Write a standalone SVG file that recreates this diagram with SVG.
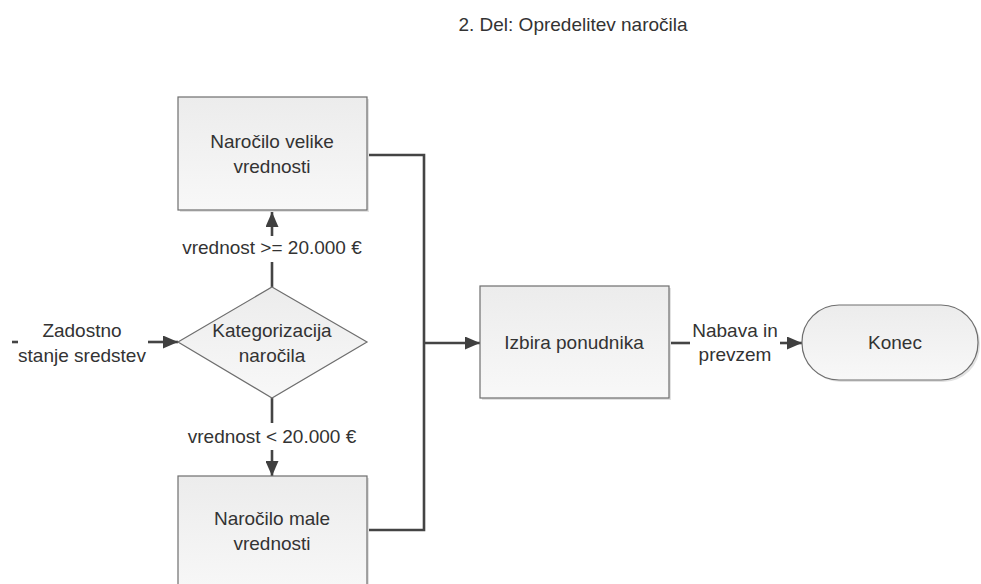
<svg xmlns="http://www.w3.org/2000/svg" width="981" height="584" viewBox="0 0 981 584">
<defs>
<linearGradient id="g" x1="0" y1="0" x2="0" y2="1">
<stop offset="0" stop-color="#ececec"/>
<stop offset="1" stop-color="#f8f8f8"/>
</linearGradient>
<marker id="ah" viewBox="0 0 15 13" refX="15" refY="6.5" markerWidth="15" markerHeight="13" markerUnits="userSpaceOnUse" orient="auto">
<path d="M0,0 L15,6.5 L0,13 Z" fill="#3f3f3f"/>
</marker>
<style>
text{font-family:"Liberation Sans",Arial,sans-serif;font-size:19px;fill:#333;text-anchor:middle}
.shape{fill:url(#g);stroke:#6e6e6e;stroke-width:1.2}
.shadow{fill:#e2e2e2}
.c{fill:none;stroke:#444;stroke-width:2.6}
</style>
</defs>
<rect width="981" height="584" fill="#fff"/>
<text id="title" x="573" y="31">2. Del: Opredelitev naročila</text>

<g id="connectors">
<path class="c" d="M12,342 L18,342"/>
<path class="c" d="M148,342 L178,342" marker-end="url(#ah)"/>
<path class="c" d="M272,287 L272,262"/>
<path class="c" d="M272,236 L272,212" marker-end="url(#ah)"/>
<path class="c" d="M272,398 L272,423"/>
<path class="c" d="M272,450 L272,476" marker-end="url(#ah)"/>
<path class="c" d="M367,155 L424,155 L424,530 L367,530"/>
<path class="c" d="M424,343 L480,343" marker-end="url(#ah)"/>
<path class="c" d="M669,343 L690,343"/>
<path class="c" d="M780,343 L802,343" marker-end="url(#ah)"/>
<text x="82" y="337">Zadostno</text>
<text x="82" y="362">stanje sredstev</text>
<text x="272" y="254">vrednost &gt;= 20.000 €</text>
<text x="272" y="443">vrednost &lt; 20.000 €</text>
<text x="735" y="337">Nabava in</text>
<text x="735" y="361">prevzem</text>
</g>

<g id="n-velike">
<rect class="shadow" x="180" y="99" width="189" height="113"/>
<rect class="shape" x="178" y="97" width="189" height="113"/>
<text x="272" y="148">Naročilo velike</text>
<text x="272" y="173">vrednosti</text>
</g>

<g id="n-kategorizacija">
<polygon class="shape" points="272,287 367,342 272,398 178,342"/>
<text x="272" y="337">Kategorizacija</text>
<text x="272" y="362">naročila</text>
</g>

<g id="n-male">
<rect class="shadow" x="180" y="478" width="189" height="120"/>
<rect class="shape" x="178" y="476" width="189" height="120"/>
<text x="272" y="525">Naročilo male</text>
<text x="272" y="550">vrednosti</text>
</g>

<g id="n-izbira">
<rect class="shadow" x="482" y="288" width="189" height="112"/>
<rect class="shape" x="480" y="286" width="189" height="112"/>
<text x="574" y="349">Izbira ponudnika</text>
</g>

<g id="n-konec">
<rect class="shadow" x="804" y="307" width="176" height="75" rx="37" ry="37"/>
<rect class="shape" x="802" y="305" width="176" height="75" rx="37" ry="37"/>
<text x="895" y="349">Konec</text>
</g>
</svg>
